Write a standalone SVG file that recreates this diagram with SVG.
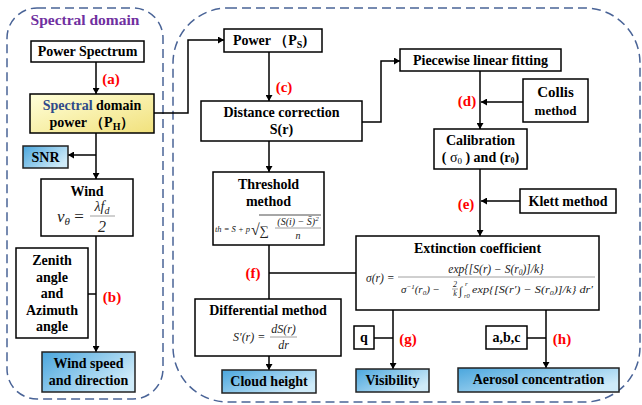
<svg xmlns="http://www.w3.org/2000/svg" width="642" height="405" viewBox="0 0 642 405">
<defs>
<linearGradient id="gy" x1="0" y1="0" x2="1" y2="1">
<stop offset="0" stop-color="#FFFFDA"/><stop offset="1" stop-color="#F1E17C"/>
</linearGradient>
<linearGradient id="gb" x1="0" y1="0" x2="1" y2="0.6">
<stop offset="0" stop-color="#4AA6DD"/><stop offset="1" stop-color="#CFEBF9"/>
</linearGradient>
<marker id="ar" markerWidth="7" markerHeight="7" refX="6" refY="3.5" orient="auto" markerUnits="userSpaceOnUse">
<path d="M0,0 L6,3.5 L0,7 Z" fill="#000"/>
</marker>
<style>
.dash{fill:none;stroke:#4A6497;stroke-width:1.5;stroke-dasharray:9 5}
.bx{fill:#fff;stroke:#000;stroke-width:1.5}
.by{fill:url(#gy);stroke:#000;stroke-width:1.5}
.bb{fill:url(#gb);stroke:#222;stroke-width:1.5}
.t{font-weight:bold;font-size:14px;fill:#000;text-anchor:middle}
.red{font-weight:bold;font-size:15px;fill:#FF0000;text-anchor:middle}
.m{font-style:italic;fill:#222}
.c{fill:none;stroke:#000;stroke-width:1.5}
.fl{stroke:#888;stroke-width:0.8}
</style>
</defs>
<g font-family="'Liberation Serif', 'Times New Roman', serif">
<rect class="dash" x="7" y="8" width="156" height="391" rx="30"/>
<rect class="dash" x="173" y="8" width="467" height="394" rx="55"/>
<text x="85" y="25" class="t" style="font-size:15.5px;fill:#7030A0">Spectral domain</text>

<g id="connectors">
<line class="c" x1="96" y1="62" x2="96" y2="94" marker-end="url(#ar)"/>
<line class="c" x1="96" y1="133" x2="96" y2="179" marker-end="url(#ar)"/>
<line class="c" x1="96" y1="155" x2="68" y2="155" marker-end="url(#ar)"/>
<line class="c" x1="96" y1="236" x2="96" y2="352" marker-end="url(#ar)"/>
<line class="c" x1="88" y1="294" x2="96" y2="294"/>
<polyline class="c" points="154,113 188,113 188,40 224,40" marker-end="url(#ar)"/>
<line class="c" x1="269" y1="52" x2="269" y2="101" marker-end="url(#ar)"/>
<line class="c" x1="269" y1="141" x2="269" y2="172" marker-end="url(#ar)"/>
<line class="c" x1="269" y1="245" x2="269" y2="299"/>
<line class="c" x1="356" y1="273" x2="269" y2="273"/>
<line class="c" x1="269" y1="356" x2="269" y2="370" marker-end="url(#ar)"/>
<polyline class="c" points="362,122 381,122 381,61 400,61" marker-end="url(#ar)"/>
<line class="c" x1="480" y1="71" x2="480" y2="129" marker-end="url(#ar)"/>
<line class="c" x1="523" y1="102" x2="481" y2="102" marker-end="url(#ar)"/>
<line class="c" x1="480" y1="169" x2="480" y2="236" marker-end="url(#ar)"/>
<line class="c" x1="520" y1="201" x2="481" y2="201" marker-end="url(#ar)"/>
<line class="c" x1="393" y1="310" x2="393" y2="369" marker-end="url(#ar)"/>
<line class="c" x1="374" y1="338" x2="393" y2="338"/>
<line class="c" x1="546" y1="310" x2="546" y2="368" marker-end="url(#ar)"/>
<line class="c" x1="527" y1="338" x2="546" y2="338"/>
</g>

<g id="labels">
<text class="red" x="111" y="84">(a)</text>
<text class="red" x="112" y="302">(b)</text>
<text class="red" x="284" y="92">(c)</text>
<text class="red" x="467" y="106">(d)</text>
<text class="red" x="466" y="209">(e)</text>
<text class="red" x="253" y="278">(f)</text>
<text class="red" x="408" y="344">(g)</text>
<text class="red" x="562" y="344">(h)</text>
</g>

<g id="power-spectrum">
<rect class="bx" x="31" y="41" width="113" height="21"/>
<text class="t" x="87.5" y="56">Power Spectrum</text>
</g>

<g id="spectral-domain-power">
<rect class="by" x="30" y="94" width="124" height="39"/>
<text class="t" x="92" y="110"><tspan fill="#2F4A8A">Spectral</tspan> domain</text>
<text class="t" x="92" y="127">power （P<tspan font-size="10" dy="3">H</tspan><tspan dy="-3">）</tspan></text>
</g>

<g id="snr">
<rect class="bb" x="23" y="146" width="45" height="22"/>
<text class="t" x="45.5" y="162">SNR</text>
</g>

<g id="wind">
<rect class="bx" x="41" y="179" width="92" height="57"/>
<text class="t" x="87" y="196">Wind</text>
<text class="m" x="57" y="222" font-size="17">v<tspan font-size="11" dy="3">θ</tspan><tspan dy="-3" font-style="normal"> =</tspan></text>
<text class="m" x="102" y="211" font-size="14" text-anchor="middle">λf<tspan font-size="10" dy="3">d</tspan></text>
<line class="fl" x1="90" y1="216" x2="115" y2="216"/>
<text class="m" x="102" y="232" font-size="16" font-style="normal" text-anchor="middle">2</text>
</g>

<g id="zenith">
<rect class="bx" x="16" y="248" width="72" height="90"/>
<text class="t" x="52" y="265">Zenith</text>
<text class="t" x="52" y="281.5">angle</text>
<text class="t" x="52" y="298">and</text>
<text class="t" x="52" y="314.5">Azimuth</text>
<text class="t" x="52" y="331">angle</text>
</g>

<g id="wind-speed">
<rect class="bb" x="42" y="352" width="93" height="40"/>
<text class="t" x="88.5" y="368">Wind speed</text>
<text class="t" x="88.5" y="385">and direction</text>
</g>

<g id="power-ps">
<rect class="bx" x="224" y="29" width="98" height="23"/>
<text class="t" x="270" y="45">Power  （P<tspan font-size="10" dy="3">S</tspan><tspan dy="-3">)</tspan></text>
</g>

<g id="distance-correction">
<rect class="bx" x="201" y="101" width="161" height="40"/>
<text class="t" x="281.5" y="117">Distance correction</text>
<text class="t" x="281.5" y="134">S(r)</text>
</g>

<g id="threshold">
<rect class="bx" x="213" y="172" width="111" height="73"/>
<text class="t" x="268.5" y="189">Threshold</text>
<text class="t" x="268.5" y="206">method</text>
<text class="m" x="215" y="232" font-size="8.5">th = S̄ + p</text>
<text class="m" x="251" y="235" font-size="16" font-style="normal">√<tspan font-size="13">∑</tspan></text>
<line x1="259" y1="215" x2="321" y2="215" stroke="#222" stroke-width="0.8"/>
<text class="m" x="298" y="225" font-size="10" text-anchor="middle">(S(i) − S̄)<tspan font-size="7" dy="-4">2</tspan></text>
<line class="fl" x1="275" y1="228" x2="321" y2="228"/>
<text class="m" x="298" y="239" font-size="10" text-anchor="middle">n</text>
</g>

<g id="differential">
<rect class="bx" x="195" y="299" width="146" height="57"/>
<text class="t" x="268" y="315">Differential method</text>
<text class="m" x="233" y="341" font-size="12">S′(r) =</text>
<text class="m" x="283.5" y="333" font-size="12" text-anchor="middle">dS(r)</text>
<line class="fl" x1="270" y1="337" x2="297" y2="337"/>
<text class="m" x="283.5" y="349" font-size="12" text-anchor="middle">dr</text>
</g>

<g id="cloud-height">
<rect class="bb" x="222" y="370" width="94" height="23"/>
<text class="t" x="269" y="386">Cloud height</text>
</g>

<g id="piecewise">
<rect class="bx" x="400" y="49" width="161" height="22"/>
<text class="t" x="480.5" y="65">Piecewise linear fitting</text>
</g>

<g id="collis">
<rect class="bx" x="523" y="79" width="65" height="43"/>
<text class="t" x="555.5" y="97" style="font-size:15px">Collis</text>
<text class="t" x="555.5" y="115" style="font-size:13px">method</text>
</g>

<g id="calibration">
<rect class="bx" x="434" y="129" width="93" height="40"/>
<text class="t" x="480.5" y="145">Calibration</text>
<text class="t" x="480.5" y="162">( <tspan font-weight="normal">σ</tspan><tspan font-size="9" font-weight="normal" dy="2">0</tspan><tspan dy="-2"> ) and (r</tspan><tspan font-size="8" dy="1">0</tspan><tspan dy="-1">)</tspan></text>
</g>

<g id="klett">
<rect class="bx" x="520" y="189" width="96" height="24"/>
<text class="t" x="568" y="206">Klett method</text>
</g>

<g id="extinction">
<rect class="bx" x="356" y="236" width="243" height="74"/>
<text class="t" x="477.5" y="253">Extinction coefficient</text>
<text class="m" x="366" y="282" font-size="11.5" font-style="normal">σ(r) =</text>
<text class="m" x="496" y="273" font-size="11.5" text-anchor="middle">exp{[S(r) − S(r<tspan font-size="7.5" dy="2">0</tspan><tspan dy="-2">)]/k}</tspan></text>
<line class="fl" x1="398" y1="277" x2="595" y2="277"/>
<text class="m" x="401" y="293" font-size="11">σ<tspan font-size="7" dy="-4">−1</tspan><tspan dy="4">(r</tspan><tspan font-size="7" dy="2">0</tspan><tspan dy="-2">) −</tspan></text>
<text class="m" x="455" y="287" font-size="8" font-style="normal" text-anchor="middle">2</text>
<line class="fl" x1="452" y1="289" x2="458" y2="289"/>
<text class="m" x="455" y="296" font-size="8" text-anchor="middle">k</text>
<text class="m" x="459" y="295" font-size="12" font-style="normal">∫</text>
<text class="m" x="465" y="286" font-size="7">r</text>
<text class="m" x="464" y="298" font-size="6.5">r0</text>
<text class="m" x="472" y="293" font-size="11" textLength="121" lengthAdjust="spacingAndGlyphs">exp{[S(r′) − S(r<tspan font-size="7" dy="2">0</tspan><tspan dy="-2">)]/k} dr′</tspan></text>
</g>

<g id="q">
<rect class="bx" x="354" y="326" width="20" height="23"/>
<text class="t" x="364" y="342">q</text>
</g>

<g id="abc">
<rect class="bx" x="486" y="326" width="41" height="23"/>
<text class="t" x="506.5" y="342">a,b,c</text>
</g>

<g id="visibility">
<rect class="bb" x="356" y="369" width="73" height="23"/>
<text class="t" x="392.5" y="385">Visibility</text>
</g>

<g id="aerosol">
<rect class="bb" x="458" y="368" width="161" height="24"/>
<text class="t" x="538.5" y="384">Aerosol concentration</text>
</g>
</g>
</svg>
